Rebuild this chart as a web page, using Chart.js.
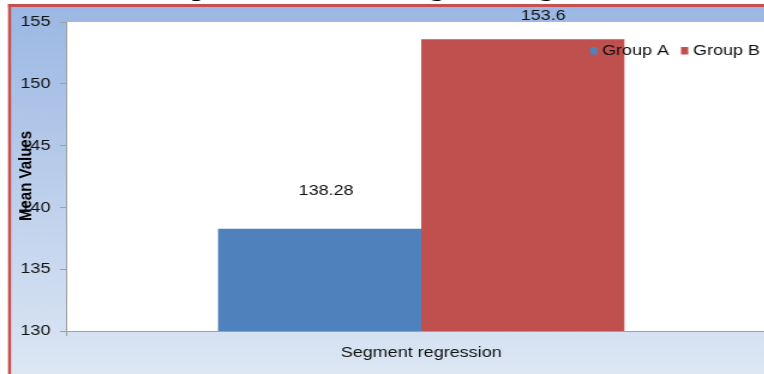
<!DOCTYPE html>
<html>
<head>
<meta charset="utf-8">
<script src="https://cdn.jsdelivr.net/npm/chart.js@4.4.1/dist/chart.umd.min.js"></script>
<style>
    html, body { margin: 0; padding: 0; background: #fff; overflow: hidden; }
    #wrap { width: 764px; height: 374px; overflow: hidden; position: relative; }
    /* chart is laid out narrow and stretched sideways */
    #stretch { position: absolute; left: 0; top: 0; transform: scaleX(1.2); transform-origin: 0 0; }
    canvas { display: block; }
</style>
</head>
<body>
<div id="wrap">
    <div id="stretch">
        <canvas id="meanChart" width="680" height="374"></canvas>
    </div>
</div>
<script>
// Data
const categories = ['Segment regression'];
const groupNames = ['Group A', 'Group B'];
const groupA = [138.28];
const groupB = [153.6];
const yTicks = [130, 135, 140, 145, 150, 155];

const chartTitle = 'Comparison of Mean Segment regression';
const yTitle = 'Mean Values';

const colors = ['#4f81bd', '#c0504d'];
const FONT = "'Liberation Sans', Arial, sans-serif";

// Frame: white page, blue gradient panel with red edge, title above it
const framePlugin = {
    id: 'frame',
    beforeDraw(chart) {
        const ctx = chart.ctx;
        const w = chart.width, h = chart.height;
        ctx.save();
        ctx.fillStyle = '#ffffff';
        ctx.fillRect(0, 0, w, h);

        // title (only its descenders reach into view)
        ctx.fillStyle = '#000';
        ctx.font = "bold 24px 'Liberation Serif', 'Times New Roman', serif";
        ctx.textBaseline = 'alphabetic';
        ctx.textAlign = 'left';
        const pre = ctx.measureText('Com').width + ctx.measureText('p').width / 2;
        ctx.fillText(chartTitle, 166.7 - pre, -4);

        const g = ctx.createLinearGradient(0, 7, 0, h);
        g.addColorStop(0, '#9bb7e3');
        g.addColorStop(1, '#dde7f4');
        ctx.fillStyle = g;
        ctx.fillRect(8, 5, w - 8, h - 5);

        ctx.fillStyle = '#c4504f';
        ctx.fillRect(6.7, 4, 2.5, h);
        ctx.fillRect(6.7, 4, w, 3);

        // plot area
        const a = chart.chartArea;
        ctx.fillStyle = '#ffffff';
        ctx.fillRect(a.left, a.top, a.right - a.left, a.bottom - a.top);
        ctx.restore();
    }
};

// Value labels, legend and rotated axis title
const overlayPlugin = {
    id: 'overlay',
    afterDraw(chart) {
        const ctx = chart.ctx;
        ctx.save();
        ctx.font = '15px ' + FONT;
        ctx.fillStyle = '#111';
        ctx.textAlign = 'center';
        ctx.textBaseline = 'middle';

        const labelShift = [{ dx: 5.4, dy: -38 }, { dx: 17, dy: -23 }];
        chart.data.datasets.forEach((ds, i) => {
            chart.getDatasetMeta(i).data.forEach((bar, j) => {
                const s = labelShift[i];
                ctx.fillText(String(ds.data[j]), bar.x + s.dx, bar.y + s.dy);
            });
        });

        // legend
        ctx.textAlign = 'left';
        const legendX = [491.7, 567.5];
        chart.data.datasets.forEach((ds, i) => {
            ctx.fillStyle = colors[i];
            ctx.fillRect(legendX[i], 47, 6, 7.5);
            ctx.fillStyle = '#111';
            ctx.fillText(ds.label, legendX[i] + 10, 51);
        });

        // y axis title
        ctx.translate(21.5, 176);
        ctx.rotate(-Math.PI / 2);
        ctx.textAlign = 'center';
        ctx.font = 'bold 15px ' + FONT;
        ctx.fillStyle = '#000';
        ctx.fillText(yTitle, 0, 0);
        ctx.restore();
    }
};

const ctx = document.getElementById('meanChart').getContext('2d');
new Chart(ctx, {
    type: 'bar',
    data: {
        labels: categories,
        datasets: [
            { label: groupNames[0], data: groupA, backgroundColor: colors[0], borderWidth: 0 },
            { label: groupNames[1], data: groupB, backgroundColor: colors[1], borderWidth: 0 }
        ]
    },
    options: {
        responsive: false,
        animation: false,
        devicePixelRatio: 1,
        layout: { padding: { top: 22, right: 33, left: 0, bottom: 0 } },
        categoryPercentage: 0.572,
        barPercentage: 1,
        plugins: {
            legend: { display: false },
            tooltip: { enabled: false }
        },
        scales: {
            x: {
                grid: { drawOnChartArea: false, tickLength: 5, color: '#a0a0a0' },
                border: { color: '#a0a0a0' },
                ticks: { color: '#111', font: { family: FONT, size: 15 }, padding: 8 },
                afterFit(scale) { scale.height = 43; }
            },
            y: {
                min: yTicks[0],
                max: yTicks[yTicks.length - 1],
                afterBuildTicks(scale) { scale.ticks = yTicks.map(v => ({ value: v })); },
                grid: { drawOnChartArea: false, tickLength: 5, color: '#a0a0a0' },
                border: { color: '#a0a0a0' },
                ticks: { color: '#111', font: { family: FONT, size: 15 }, padding: 8 },
                afterFit(scale) { scale.width = 55; }
            }
        }
    },
    plugins: [framePlugin, overlayPlugin]
});
</script>
</body>
</html>
